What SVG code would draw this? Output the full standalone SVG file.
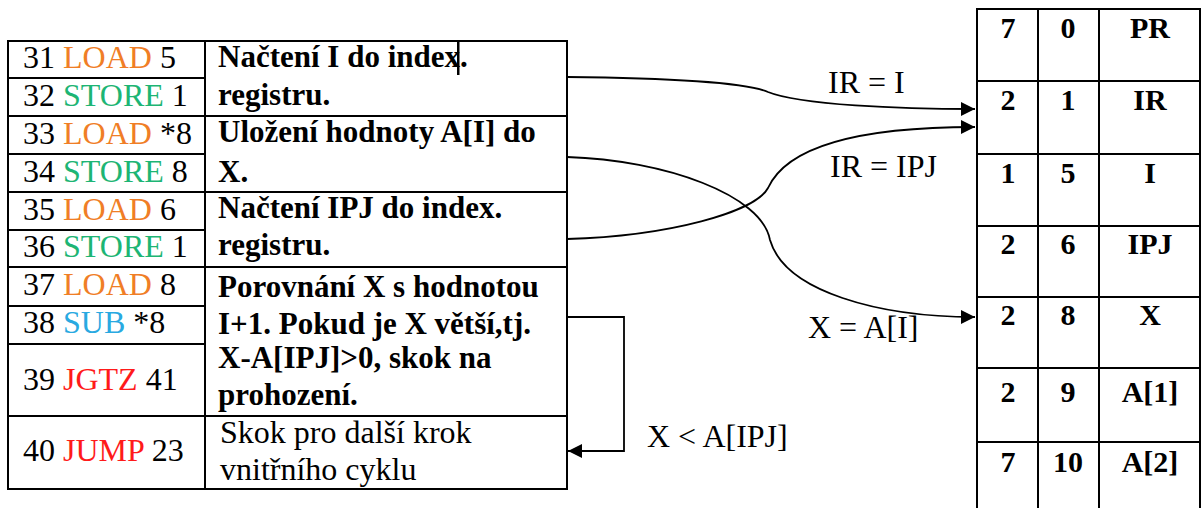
<svg xmlns="http://www.w3.org/2000/svg" width="1203" height="508" viewBox="0 0 1203 508">
<defs>
<style>
.ln{stroke:#000;stroke-width:2;fill:none}
.t{font-family:'Liberation Serif','DejaVu Serif',serif;font-size:32px;fill:#000}
.b{font-weight:bold;font-size:31px}
.mb{font-family:'Liberation Serif','DejaVu Serif',serif;font-size:30px;font-weight:bold;fill:#000;text-anchor:middle}
.ld{fill:#F07E26}
.st{fill:#1DB574}
.sb{fill:#29A9E1}
.jp{fill:#FF1A1A}
.c{stroke:#000;stroke-width:1.8;fill:none}
</style>
<marker id="ah" viewBox="0 0 10 10" refX="10" refY="5" markerWidth="14" markerHeight="14" markerUnits="userSpaceOnUse" orient="auto">
<path d="M0,0 L10,5 L0,10 z" fill="#000"/>
</marker>
</defs>
<rect width="1203" height="508" fill="#fff"/>

<g id="program">
<rect class="ln" x="8" y="41" width="559" height="448"/>
<line class="ln" x1="205" y1="41" x2="205" y2="489"/>
<line class="ln" x1="8" y1="78" x2="205" y2="78"/>
<line class="ln" x1="8" y1="116" x2="567" y2="116"/>
<line class="ln" x1="8" y1="154" x2="205" y2="154"/>
<line class="ln" x1="8" y1="192" x2="567" y2="192"/>
<line class="ln" x1="8" y1="230" x2="205" y2="230"/>
<line class="ln" x1="8" y1="267" x2="567" y2="267"/>
<line class="ln" x1="8" y1="306" x2="205" y2="306"/>
<line class="ln" x1="8" y1="344" x2="205" y2="344"/>
<line class="ln" x1="8" y1="416" x2="567" y2="416"/>

<text class="t" x="23" y="68">31 <tspan class="ld">LOAD</tspan> 5</text>
<text class="t" x="23" y="106">32 <tspan class="st">STORE</tspan> 1</text>
<text class="t" x="23" y="144">33 <tspan class="ld">LOAD</tspan> *8</text>
<text class="t" x="23" y="182">34 <tspan class="st">STORE</tspan> 8</text>
<text class="t" x="23" y="220">35 <tspan class="ld">LOAD</tspan> 6</text>
<text class="t" x="23" y="257">36 <tspan class="st">STORE</tspan> 1</text>
<text class="t" x="23" y="295">37 <tspan class="ld">LOAD</tspan> 8</text>
<text class="t" x="23" y="333">38 <tspan class="sb">SUB</tspan> *8</text>
<text class="t" x="23" y="390">39 <tspan class="jp">JGTZ</tspan> 41</text>
<text class="t" x="23" y="461">40 <tspan class="jp">JUMP</tspan> 23</text>

<text class="t b" x="218" y="67">Načtení I do index.</text>
<text class="t b" x="218" y="105">registru.</text>
<text class="t b" x="218" y="142">Uložení hodnoty A[I] do</text>
<text class="t b" x="218" y="182">X.</text>
<text class="t b" x="218" y="218">Načtení IPJ do index.</text>
<text class="t b" x="218" y="255">registru.</text>
<text class="t b" x="218" y="297">Porovnání X s hodnotou</text>
<text class="t b" x="218" y="334">I+1. Pokud je X větší,tj.</text>
<text class="t b" x="218" y="368">X-A[IPJ]&gt;0, skok na</text>
<text class="t b" x="218" y="405">prohození.</text>
<text class="t" x="220" y="443">Skok pro další krok</text>
<text class="t" x="220" y="480">vnitřního cyklu</text>
<rect x="457" y="40" width="2.5" height="35" fill="#000"/>
</g>

<g id="memory">
<rect class="ln" x="977" y="9" width="223" height="520"/>
<line class="ln" x1="1038" y1="9" x2="1038" y2="508"/>
<line class="ln" x1="1099" y1="9" x2="1099" y2="508"/>
<line class="ln" x1="977" y1="81" x2="1200" y2="81"/>
<line class="ln" x1="977" y1="154" x2="1200" y2="154"/>
<line class="ln" x1="977" y1="226" x2="1200" y2="226"/>
<line class="ln" x1="977" y1="297" x2="1200" y2="297"/>
<line class="ln" x1="977" y1="368" x2="1200" y2="368"/>
<line class="ln" x1="977" y1="442" x2="1200" y2="442"/>

<text class="mb" x="1008" y="38">7</text><text class="mb" x="1068" y="38">0</text><text class="mb" x="1150" y="38">PR</text>
<text class="mb" x="1008" y="110">2</text><text class="mb" x="1068" y="110">1</text><text class="mb" x="1150" y="110">IR</text>
<text class="mb" x="1008" y="183">1</text><text class="mb" x="1068" y="183">5</text><text class="mb" x="1150" y="183">I</text>
<text class="mb" x="1008" y="254">2</text><text class="mb" x="1068" y="254">6</text><text class="mb" x="1150" y="254">IPJ</text>
<text class="mb" x="1008" y="325">2</text><text class="mb" x="1068" y="325">8</text><text class="mb" x="1150" y="325">X</text>
<text class="mb" x="1008" y="402">2</text><text class="mb" x="1068" y="402">9</text><text class="mb" x="1150" y="402">A[1]</text>
<text class="mb" x="1008" y="472">7</text><text class="mb" x="1068" y="472">10</text><text class="mb" x="1150" y="472">A[2]</text>
</g>

<g id="connectors">
<path class="c" marker-end="url(#ah)" d="M567,77 C660,78 745,82 768,92 C800,105 900,109 975,109"/>
<path class="c" marker-end="url(#ah)" d="M567,239 C670,236 755,212 768,188 C790,140 880,127 975,127"/>
<path class="c" marker-end="url(#ah)" d="M567,157 C665,160 762,195 770,240 C785,292 880,317 975,317"/>
<path class="c" marker-end="url(#ah)" d="M567,317 H624 V451 H568"/>
</g>

<g id="labels">
<text class="t" x="828" y="93">IR = I</text>
<text class="t" x="830" y="177">IR = IPJ</text>
<text class="t" x="808" y="338">X = A[I]</text>
<text class="t" x="647" y="447">X &lt; A[IPJ]</text>
</g>
</svg>
